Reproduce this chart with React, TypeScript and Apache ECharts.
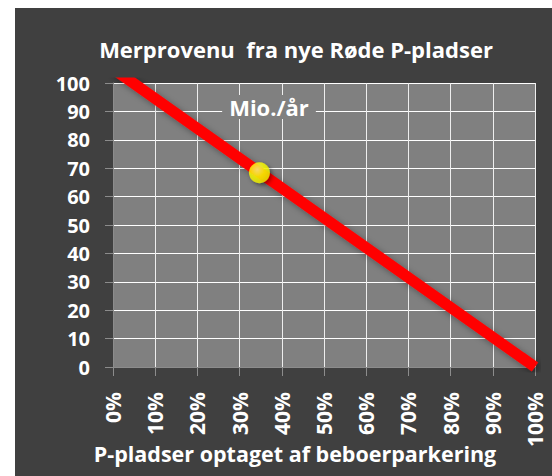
import React, { useEffect, useRef } from "react";
import * as echarts from "echarts";

const title = "Merprovenu  fra nye Røde P-pladser";
const unitLabel = "Mio./år";
const xAxisName = "P-pladser optaget af beboerparkering";
// share of P-spaces taken by resident parking (0..1) -> extra revenue (mio./år)
const lineShare = [0, 1];
const lineRevenue = [105, 0];
const markerShare = [0.347];
const markerRevenue = [68.4];
const yTicks = [0, 10, 20, 30, 40, 50, 60, 70, 80, 90, 100];
const xTicks = [0, 0.1, 0.2, 0.3, 0.4, 0.5, 0.6, 0.7, 0.8, 0.9, 1];

const FONT = "'Open Sans', 'DejaVu Sans', sans-serif";

export default function App() {
  const ref = useRef<HTMLDivElement>(null);
  useEffect(() => {
    if (!ref.current) return;
    const chart = echarts.init(ref.current, undefined, { renderer: "svg" });
    const yMin = yTicks[0];
    const yMax = yTicks[yTicks.length - 1];
    const yInt = yTicks[1] - yTicks[0];
    const xMin = xTicks[0];
    const xMax = xTicks[xTicks.length - 1];
    const xInt = xTicks[1] - xTicks[0];
    chart.setOption({
      animation: false,
      backgroundColor: "#404040",
      grid: {
        left: 98,
        top: 75,
        right: 17,
        bottom: 109,
        show: true,
        backgroundColor: "#808080",
        borderWidth: 0,
      },
      graphic: [
        {
          type: "text",
          x: 281,
          y: 41,
          style: {
            text: title,
            fill: "#ffffff",
            fontFamily: FONT,
            fontWeight: "bold",
            fontSize: 22,
            align: "center",
            verticalAlign: "middle",
          },
        },
        {
          type: "text",
          x: 254,
          y: 99,
          z: 10,
          style: {
            text: unitLabel,
            fill: "#ffffff",
            fontFamily: FONT,
            fontWeight: "bold",
            fontSize: 22,
            align: "center",
            verticalAlign: "middle",
            backgroundColor: "#808080",
            padding: [1, 7, 1, 7],
          },
        },
        {
          type: "text",
          x: 280,
          y: 445,
          style: {
            text: xAxisName,
            fill: "#ffffff",
            fontFamily: FONT,
            fontWeight: "bold",
            fontSize: 21.5,
            align: "center",
            verticalAlign: "middle",
          },
        },
      ],
      xAxis: {
        type: "value",
        min: xMin,
        max: xMax,
        interval: xInt,
        axisLine: { show: true, lineStyle: { color: "#8c8c8c", width: 1 } },
        axisTick: { show: true, length: 9, lineStyle: { color: "#8c8c8c" } },
        splitLine: { show: true, lineStyle: { color: "#eeeeee", width: 1 } },
        axisLabel: {
          rotate: 90,
          margin: 25,
          color: "#ffffff",
          fontFamily: FONT,
          fontWeight: "bold",
          fontSize: 21,
          formatter: (v: number) => Math.round(v * 100) + "%",
        },
      },
      yAxis: {
        type: "value",
        min: yMin,
        max: yMax,
        interval: yInt,
        axisLine: { show: true, lineStyle: { color: "#8c8c8c", width: 1 } },
        axisTick: { show: true, length: 8, lineStyle: { color: "#8c8c8c" } },
        splitLine: { show: true, lineStyle: { color: "#ffffff", width: 1 } },
        axisLabel: {
          margin: 23,
          color: "#ffffff",
          fontFamily: FONT,
          fontWeight: "bold",
          fontSize: 20,
        },
      },
      series: [
        {
          type: "line",
          data: lineShare.map((x, i) => [x, lineRevenue[i]]),
          symbol: "none",
          clip: true,
          lineStyle: {
            color: "#ff0000",
            width: 11,
            cap: "butt",
            shadowColor: "rgba(0,0,0,0.35)",
            shadowBlur: 6,
            shadowOffsetX: 3,
            shadowOffsetY: 3,
          },
          z: 3,
        },
        {
          type: "scatter",
          data: markerShare.map((x, i) => [x, markerRevenue[i]]),
          symbol: "circle",
          symbolSize: 21,
          itemStyle: {
            color: new echarts.graphic.RadialGradient(0.4, 0.35, 0.7, [
              { offset: 0, color: "#ffff80" },
              { offset: 0.5, color: "#ffff00" },
              { offset: 1, color: "#eaea00" },
            ]),
            shadowColor: "rgba(0,0,0,0.5)",
            shadowBlur: 4,
            shadowOffsetX: 2,
            shadowOffsetY: 2,
          },
          z: 5,
        },
      ],
    });
    return () => chart.dispose();
  }, []);
  return (
    <div
      ref={ref}
      style={{ position: "fixed", left: 15, top: 8, width: 537, height: 468 }}
    />
  );
}
